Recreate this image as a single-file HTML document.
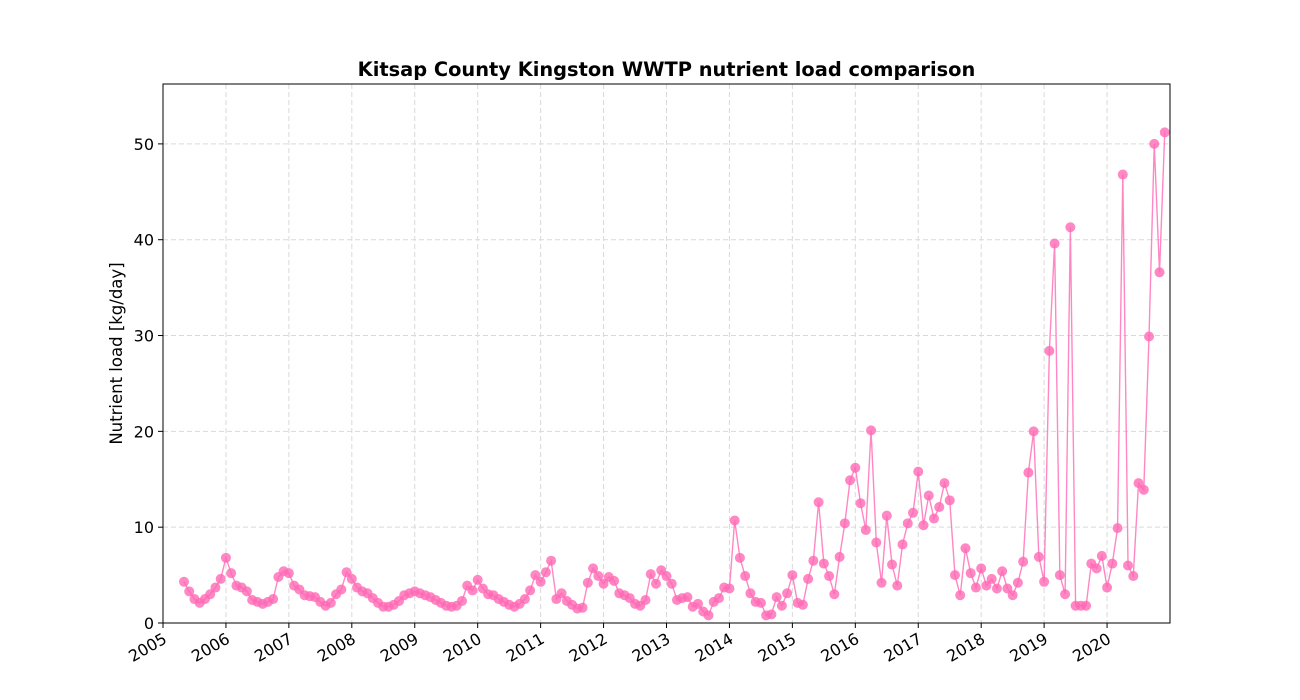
<!DOCTYPE html>
<html><head><meta charset="utf-8"><style>
html,body{margin:0;padding:0;background:#fff;}
svg{display:block;font-family:"DejaVu Sans","Liberation Sans",sans-serif;}
</style></head><body>
<svg id="chart" width="1300" height="700"></svg>
<script>
const years = [2005,2006,2007,2008,2009,2010,2011,2012,2013,2014,2015,2016,2017,2018,2019,2020];
const yTicks = [0,10,20,30,40,50];
const startYear = 2005, startMonth = 5;
const loads = [
4.3,3.3,2.5,2.1,2.5,3.0,3.7,4.6,
6.8,5.2,3.9,3.7,3.3,2.4,2.2,2.0,2.2,2.5,4.8,5.4,
5.2,3.9,3.5,2.9,2.8,2.7,2.2,1.8,2.1,3.0,3.5,5.3,
4.6,3.7,3.3,3.1,2.6,2.1,1.7,1.7,1.9,2.3,2.9,3.1,
3.3,3.1,2.9,2.7,2.4,2.1,1.8,1.7,1.8,2.3,3.9,3.4,
4.5,3.6,3.0,2.9,2.5,2.2,1.9,1.7,2.0,2.5,3.4,5.0,
4.3,5.3,6.5,2.5,3.1,2.3,1.9,1.5,1.6,4.2,5.7,4.9,
4.1,4.8,4.4,3.1,2.9,2.6,2.0,1.8,2.4,5.1,4.1,5.5,
4.9,4.1,2.4,2.6,2.7,1.7,2.0,1.2,0.8,2.2,2.6,3.7,
3.6,10.7,6.8,4.9,3.1,2.2,2.1,0.8,0.9,2.7,1.8,3.1,
5.0,2.1,1.9,4.6,6.5,12.6,6.2,4.9,3.0,6.9,10.4,14.9,
16.2,12.5,9.7,20.1,8.4,4.2,11.2,6.1,3.9,8.2,10.4,11.5,
15.8,10.2,13.3,10.9,12.1,14.6,12.8,5.0,2.9,7.8,5.2,3.7,
5.7,3.9,4.6,3.6,5.4,3.6,2.9,4.2,6.4,15.7,20.0,6.9,
4.3,28.4,39.6,5.0,3.0,41.3,1.8,1.8,1.8,6.2,5.7,7.0,
3.7,6.2,9.9,46.8,6.0,4.9,14.6,13.9,29.9,50.0,36.6,51.2
];
const NS="http://www.w3.org/2000/svg";
const svg=document.getElementById('chart');
const L=163,R=1170,T=84,B=623;
const x0=2005,x1=2021,y0=0,y1=56.25;
function sx(v){return L+(v-x0)/(x1-x0)*(R-L);}
function sy(v){return B-(v-y0)/(y1-y0)*(B-T);}
function mk(tag,attrs,parent){const e=document.createElementNS(NS,tag);for(const k in attrs)e.setAttribute(k,attrs[k]);(parent||svg).appendChild(e);return e;}
const grid=mk('g',{});


years.forEach(y=>{mk('line',{x1:sx(y),x2:sx(y),y1:T,y2:B,stroke:'#d9d9d9','stroke-width':1,'stroke-dasharray':'5,3'},grid);});
yTicks.forEach(v=>{mk('line',{x1:L,x2:R,y1:sy(v),y2:sy(v),stroke:'#d9d9d9','stroke-width':1,'stroke-dasharray':'5,3'},grid);});
const pts=loads.map((v,i)=>{const m=startMonth-1+i;const t=startYear+m/12;return [sx(t),sy(v)];});
const line=mk('polyline',{points:pts.map(p=>p.join(',')).join(' '),fill:'none',stroke:'#ff69b4','stroke-opacity':0.8,'stroke-width':1.4});


pts.forEach(p=>{const c=mk('circle',{cx:p[0],cy:p[1],r:5,fill:'#ff69b4','fill-opacity':0.8});

});
const fr=mk('rect',{x:L,y:T,width:R-L,height:B-T,fill:'none',stroke:'#000','stroke-width':1});


years.forEach(y=>{const X=sx(y);mk('line',{x1:X,x2:X,y1:B,y2:B+5,stroke:'#000'});
const t=mk('text',{x:X+5,y:B+19,'font-size':16,'text-anchor':'end',transform:`rotate(-30 ${X+5} ${B+19})`});t.textContent=y;

});
yTicks.forEach(v=>{const Y=sy(v);mk('line',{x1:L-5,x2:L,y1:Y,y2:Y,stroke:'#000'});
const t=mk('text',{x:L-9,y:Y+6,'font-size':16,'text-anchor':'end'});t.textContent=v;

});
const title=mk('text',{x:(L+R)/2,y:76,'font-size':19.4,'font-weight':'bold','text-anchor':'middle'});
title.textContent='Kitsap County Kingston WWTP nutrient load comparison';


const yl=mk('text',{x:122,y:(T+B)/2,'font-size':16.5,'text-anchor':'middle',transform:`rotate(-90 122 ${(T+B)/2})`});
yl.textContent='Nutrient load [kg/day]';


</script>
</body></html>
